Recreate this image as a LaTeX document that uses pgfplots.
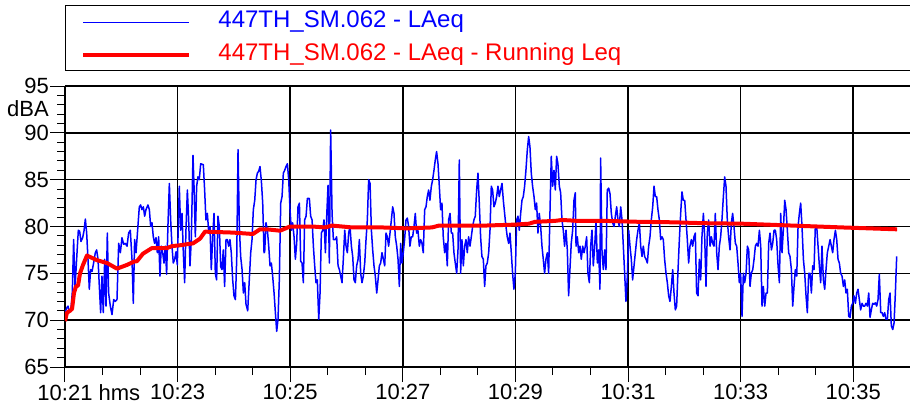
\documentclass[border=0pt]{standalone}
\usepackage{fontspec}
\setmainfont{Liberation Sans}
\usepackage{pgfplots}
\pgfplotsset{compat=1.18}
\newcommand{\lgfont}{\fontsize{24}{28}\selectfont}
\begin{document}
\begin{tikzpicture}
\begin{axis}[
  scale only axis, width=845pt, height=281pt,
  xmin=0, xmax=900.5, ymin=65, ymax=95,
  axis x line*=bottom, axis y line*=left,
  axis line style={line width=1.5pt, black, -},
  tick align=outside,
  xtick={0,120,240,360,480,600,720,840},
  xticklabels={10:21\rlap{ hms},10:23,10:25,10:27,10:29,10:31,10:33,10:35},
  minor x tick num=2,
  ytick={65,70,75,80,85,90,95},
  minor y tick num=4,
  extra y ticks={92.6}, extra y tick labels={dBA},
  extra y tick style={grid=none, major tick style={draw=none}},
  grid=major,
  major grid style={black, line width=1.5pt},
  major tick length=15pt, minor tick length=8pt,
  tick style={black, line width=1pt},
  /pgf/number format/assume math mode=true,
  ticklabel style={font=\fontsize{22}{26}\selectfont},
  yticklabel style={inner sep=1pt},
  xticklabel style={inner sep=2pt},
  legend style={at={(0,1)}, anchor=south west, yshift=14.7pt, draw=black, line width=0.9pt, fill=white,
    inner xsep=16pt, inner ysep=5.5pt, row sep=10.7pt, column sep=27pt,
    nodes={inner sep=0pt, text height=17pt, text depth=5pt, anchor=base west, font=\lgfont}},
  legend image code/.code={\draw[#1] (0pt,5.3pt) -- (106pt,5.3pt);},
]
\addplot[blue, line width=1.5pt, line join=round] coordinates {
(0,70.8)(1.8,71.3)(3.2,71.5)(4.6,70.9)(6.4,71.2)(7.8,73.0)(9.2,78.6)(10.7,73.5)(12.4,76.5)(14.2,79.6)(15.6,79.5)(17.0,78.4)(18.8,78.8)(20.2,79.5)(21.7,80.8)(23.1,79.3)(24.5,76.5)(25.9,73.3)(27.3,75.4)(28.8,75.2)(30.5,76.1)(32.3,77.2)(33.7,77.5)(35.2,76.5)(36.6,73.6)(38.0,70.8)(39.4,74.7)(40.8,70.8)(42.3,76.5)(43.7,71.5)(45.1,79.3)(46.5,72.9)(48.3,71.5)(50.1,70.6)(51.9,72.2)(53.6,72.0)(55.4,72.2)(57.2,78.2)(59.0,77.2)(60.7,78.8)(62.5,78.1)(64.3,78.2)(66.1,77.9)(67.8,79.3)(69.6,79.6)(71.4,76.5)(72.8,71.8)(74.2,78.6)(75.7,77.2)(77.4,79.6)(79.2,82.1)(80.6,82.3)(82.0,81.8)(83.5,82.1)(84.9,81.1)(86.3,81.8)(88.4,82.3)(89.9,81.8)(91.3,80.0)(92.7,80.4)(94.1,78.9)(95.5,78.2)(97.0,78.8)(98.4,77.2)(99.8,78.9)(101.2,74.7)(102.6,77.9)(104.1,77.2)(105.5,76.1)(106.9,77.9)(108.3,74.9)(109.8,80.4)(111.2,84.6)(112.6,80.7)(114.0,77.9)(115.4,76.1)(116.9,76.5)(118.3,77.3)(119.7,75.9)(121.8,84.3)(123.3,79.6)(124.7,81.4)(126.1,77.2)(127.5,74.0)(128.9,79.6)(130.4,83.9)(131.8,80.7)(133.2,75.8)(134.6,78.6)(136.4,87.6)(137.5,84.3)(138.9,78.9)(140.3,84.3)(141.7,85.3)(143.1,85.0)(144.6,86.7)(147.4,86.6)(148.8,83.9)(150.2,80.7)(151.7,81.4)(153.1,79.5)(154.5,80.0)(155.9,75.4)(157.4,78.9)(158.8,81.4)(160.2,75.0)(161.6,74.3)(163.0,81.1)(164.5,80.0)(165.9,75.7)(167.3,75.4)(168.7,77.5)(170.1,73.6)(171.6,78.6)(173.0,78.6)(174.4,77.9)(175.8,78.6)(177.2,77.2)(178.7,74.3)(180.1,72.6)
(181.6,72.2)(183.0,76.5)(184.4,88.2)(185.8,80.0)(187.2,76.8)(188.7,75.4)(190.1,72.9)(191.5,74.0)(192.9,71.7)(194.7,71.0)(196.5,74.5)(197.9,77.2)(199.3,78.6)(200.7,81.8)(202.2,82.8)(203.6,85.0)(205.0,85.7)(206.4,85.9)(207.8,86.4)(209.3,84.8)(210.7,82.5)(212.1,77.2)(212.8,77.3)(214.2,80.4)(215.7,79.6)(217.1,77.9)(218.5,75.8)(219.9,76.1)(221.3,74.7)(222.8,72.9)(224.2,70.8)(225.6,68.8)(227.0,70.1)(228.4,74.3)(229.9,82.5)(231.3,83.2)(232.7,85.7)(234.1,86.0)(235.5,86.4)(237.0,86.7)(238.4,85.0)(239.8,81.8)(241.2,79.6)(242.6,80.4)(244.1,78.9)(245.5,76.5)(246.9,78.2)(248.3,82.1)(249.8,82.5)(251.2,76.3)(252.6,76.1)(254.0,74.0)(255.4,80.7)(256.9,81.1)(258.3,83.0)(260.4,83.0)(261.8,81.1)(263.3,80.7)(264.7,77.9)(266.1,75.8)(267.5,74.0)(268.9,74.3)(270.4,70.1)(271.8,72.9)(273.2,79.3)(274.6,79.6)(276.0,80.7)(277.5,77.2)(278.9,81.1)(280.3,84.4)(281.7,76.1)(283.1,90.3)(284.6,81.4)(286.0,78.6)(288.1,78.6)(289.5,78.9)(291.0,75.8)(292.4,75.4)(293.8,74.7)(295.2,74.0)(296.6,76.5)(298.1,79.6)(299.5,77.9)(300.9,77.2)(302.3,79.3)(303.7,80.0)(305.2,77.9)(306.6,76.8)(308.0,74.3)(309.4,74.0)(310.8,75.8)(312.3,76.5)(313.7,78.6)(315.1,75.0)(316.5,74.0)(317.9,74.7)(319.4,76.1)(320.8,78.6)(322.2,80.7)(323.6,85.0)(325.1,84.6)(326.5,79.6)(327.9,77.5)(329.3,75.8)(330.7,74.7)(332.2,72.9)(333.6,74.3)(335.0,75.8)(336.4,76.1)(337.8,77.2)(339.3,76.5)(340.7,75.8)(342.1,79.3)(343.5,78.9)(344.9,77.9)(347.8,80.7)(349.2,82.1)(350.6,81.4)(352.0,78.9)(353.5,77.9)(354.9,76.5)(356.3,73.6)(357.7,78.2)
(359.1,76.1)(360.5,77.2)(361.9,78.6)(363.4,80.7)(364.8,80.9)(366.2,80.0)(367.6,77.9)(369.0,78.9)(370.5,78.9)(371.9,80.0)(373.3,81.4)(374.7,79.3)(376.1,79.6)(377.6,77.9)(379.0,78.6)(380.4,78.2)(381.8,77.2)(383.3,81.8)(384.7,82.1)(386.1,83.2)(387.5,83.9)(388.9,82.8)(390.4,84.3)(391.8,85.0)(393.2,86.0)(394.6,87.1)(396.0,88.0)(397.5,86.7)(398.9,84.3)(400.3,81.8)(401.7,82.5)(403.1,78.9)(404.6,77.2)(406.0,78.2)(407.4,75.8)(408.8,80.7)(410.3,81.4)(411.7,79.3)(413.1,79.3)(414.5,77.2)(415.9,76.1)(417.4,75.0)(418.8,77.5)(420.2,87.1)(421.6,75.0)(423.0,78.6)(424.5,75.8)(425.9,77.9)(427.3,78.6)(428.7,77.2)(430.1,78.9)(431.6,77.9)(433.0,78.9)(434.4,80.0)(435.8,80.7)(437.2,81.1)(438.7,83.9)(440.1,85.7)(441.5,82.5)(442.9,78.9)(444.3,76.8)(445.8,76.5)(447.2,73.6)(448.6,75.8)(450.0,76.1)(451.5,77.2)(452.9,79.6)(454.3,84.3)(455.7,83.9)(457.1,82.1)(458.6,82.5)(460.0,83.2)(461.4,84.3)(462.8,83.2)(464.2,83.9)(465.7,84.6)(467.1,82.8)(468.5,81.4)(469.9,80.0)(471.3,78.9)(472.8,78.2)(474.2,79.3)(475.6,77.2)(477.0,75.0)(478.4,73.3)(479.9,75.0)(481.3,80.7)(482.7,81.1)(484.1,79.6)(485.6,81.4)(487.0,82.8)(488.4,83.2)(489.8,84.3)(491.2,86.0)(492.7,88.2)(494.1,89.6)(495.5,88.5)(496.9,85.7)(498.3,84.3)(499.8,83.2)(501.2,81.8)(502.6,82.5)(504.0,79.3)(505.4,81.4)(506.9,80.0)(508.3,77.9)(509.7,76.5)(511.1,75.0)(512.5,76.5)(514.0,77.2)(515.4,75.0)(516.8,81.4)(518.2,87.5)(519.7,84.3)(521.1,86.0)(522.5,83.9)(523.9,87.5)(525.3,86.7)(526.8,84.3)(528.2,83.6)(529.6,80.7)(531.0,79.6)(532.4,77.9)(533.9,79.6)(535.3,77.5)(536.7,72.6)(538.1,75.4)(539.5,78.2)(541.0,79.6)(542.4,82.8)(543.8,83.6)
(544.6,77.9)(546.0,78.9)(547.4,77.2)(548.8,77.9)(550.2,76.5)(551.7,77.9)(553.1,77.2)(554.5,77.9)(555.9,78.9)(557.3,75.0)(558.8,74.0)(560.2,77.9)(561.6,79.6)(563.0,75.8)(564.5,77.9)(565.9,80.7)(567.3,76.1)(568.7,77.5)(570.1,73.3)(570.8,87.3)(572.3,77.2)(573.7,75.4)(575.1,77.5)(576.5,75.4)(577.9,83.9)(579.4,84.1)(580.8,83.5)(582.2,81.4)(583.6,80.4)(585.1,80.0)(586.5,81.1)(587.9,82.1)(589.3,80.7)(590.7,80.0)(592.2,82.1)(593.6,80.7)(595.0,77.9)(596.4,75.0)(597.8,72.0)(599.3,74.7)(600.7,79.6)(602.1,77.9)(603.5,76.5)(604.9,74.3)(606.4,75.8)(607.8,77.2)(609.2,78.6)(610.6,79.6)(612.1,80.4)(613.5,77.9)(614.9,76.8)(616.3,77.9)(617.7,76.8)(619.2,76.5)(620.6,76.1)(622.0,77.9)(623.4,78.9)(624.8,80.7)(626.3,82.1)(627.7,84.3)(629.1,83.2)(630.5,83.2)(631.9,81.8)(633.4,80.7)(634.8,78.6)(636.2,78.9)(637.6,78.6)(639.0,76.5)(640.5,75.0)(641.9,74.0)(643.3,72.6)(644.7,72.0)(646.2,73.6)(647.6,75.4)(649.0,72.9)(650.4,71.1)(651.8,71.5)(653.3,75.4)(654.7,78.6)(656.1,81.4)(657.5,83.7)(658.9,82.8)(660.4,82.8)(661.8,80.7)(663.2,78.6)(664.6,76.1)(666.0,77.9)(667.5,78.6)(668.9,77.9)(670.3,78.9)(671.7,79.3)(673.1,72.9)(674.6,72.6)(676.0,76.5)(677.4,74.3)(678.8,78.9)(680.3,81.4)(681.7,78.9)(683.1,73.6)(684.5,79.3)(685.9,80.7)(687.4,77.9)(688.8,78.9)(690.2,78.2)(691.6,77.9)(693.0,81.4)(694.5,77.2)(695.9,75.4)(697.3,77.9)(698.7,78.9)(700.1,80.7)(701.6,83.2)(703.0,85.3)(704.4,84.3)(705.8,80.7)(707.2,78.9)(708.7,77.5)(710.1,80.4)(711.5,81.4)(712.9,80.0)(714.4,78.2)(715.8,77.9)(717.2,76.1)(718.6,74.0)(720.0,75.0)(721.5,70.4)
(722.9,75.0)(724.3,74.0)(725.8,75.0)(727.2,77.9)(728.6,77.5)(730.0,73.6)(731.4,75.0)(732.9,75.4)(734.3,76.5)(735.7,77.9)(737.1,78.2)(738.5,77.9)(740.0,79.6)(741.4,77.9)(742.8,71.5)(744.2,73.6)(745.7,71.5)(747.1,72.9)(748.5,72.9)(749.9,78.2)(751.3,79.3)(752.8,77.5)(754.2,78.2)(755.6,79.6)(757.0,79.6)(758.4,78.6)(759.9,75.8)(761.3,74.0)(762.7,81.4)(764.1,77.2)(765.5,79.6)(767.0,82.8)(768.4,81.8)(769.8,79.6)(771.2,77.2)(772.6,76.8)(774.1,75.4)(775.5,71.5)(776.9,73.6)(778.3,75.4)(779.8,74.7)(781.2,80.0)(782.6,81.4)(784.0,82.5)(785.4,80.0)(786.9,76.5)(788.3,75.0)(789.7,72.6)(791.1,70.8)(792.5,75.0)(794.0,75.0)(795.4,72.9)(796.8,75.8)(798.2,75.4)(799.6,80.0)(801.1,80.0)(802.5,77.9)(803.9,75.8)(805.3,74.0)(806.7,77.9)(808.2,74.3)(809.6,73.3)(811.0,75.4)(812.4,77.2)(813.9,77.9)(815.3,78.6)(816.7,77.9)(818.1,77.2)(819.5,78.6)(821.0,79.6)(822.4,78.6)(823.8,76.5)(825.2,76.1)(826.6,75.0)(828.1,74.7)(829.5,73.6)(830.9,74.3)(832.3,72.9)(833.7,73.3)(835.2,70.4)(836.6,70.3)(838.0,71.5)(839.4,71.8)(840.8,72.6)(842.3,71.8)(843.7,72.9)(845.1,73.3)(846.5,72.2)(847.9,71.1)(849.4,71.8)(850.8,71.5)(852.2,71.5)(853.6,71.8)(855.1,71.5)(856.5,72.9)(857.9,70.3)(859.3,71.1)(860.7,71.8)(862.2,71.7)(863.6,71.85)(865.0,71.5)(866.4,72.2)(867.8,74.9)(869.3,70.8)(870.7,70.8)(872.1,70.4)(873.5,70.8)(874.9,70.1)(876.4,70.1)(877.8,72.2)(879.2,72.9)(880.6,69.4)(882.1,69.0)(883.5,69.7)(884.9,72.9)(886.3,76.8)
};
\addlegendentry{\lgfont\textcolor{blue}{\makebox[680pt][l]{447TH\_SM.062 - LAeq}}}
\addplot[red, line width=4pt, line join=round] coordinates {
(0,69.9)(2.1,70.8)(5.3,71.0)(7.5,71.2)(9.6,72.9)(11.7,73.6)(13.9,73.7)(16.0,75.0)(19.2,75.9)(23.4,76.9)(34.1,76.4)(44.8,76.1)(55.4,75.5)(66.1,75.9)(73.5,76.25)(76.7,76.3)(83.1,77.1)(92.7,77.7)(108.7,77.7)(114.0,77.9)(122.6,78.0)(136.4,78.2)(143.9,78.7)(149.2,79.45)(179.0,79.35)(200.3,79.2)(207.8,79.7)(215.3,79.7)(229.1,79.55)(239.8,80.0)(250.4,80.0)(263.2,80.0)(277.1,79.9)(284.5,80.1)(305.9,79.9)(337.8,79.9)(364.5,79.8)(391.1,79.9)(398.6,80.1)(447.6,80.1)(479.6,80.2)(494.5,80.3)(500.9,80.5)(522.2,80.6)(529.7,80.7)(545.6,80.6)(575.5,80.6)(611.7,80.5)(646.9,80.45)(682.0,80.35)(721.5,80.3)(774.8,80.1)(828.1,79.9)(886.7,79.7)
};
\addlegendentry{\lgfont\textcolor{red}{\makebox[680pt][l]{447TH\_SM.062 - LAeq - Running Leq}}}
\end{axis}
\pgfresetboundingbox
\path[use as bounding box] (-65pt,-43pt) rectangle (845pt,367pt);
\end{tikzpicture}
\end{document}
